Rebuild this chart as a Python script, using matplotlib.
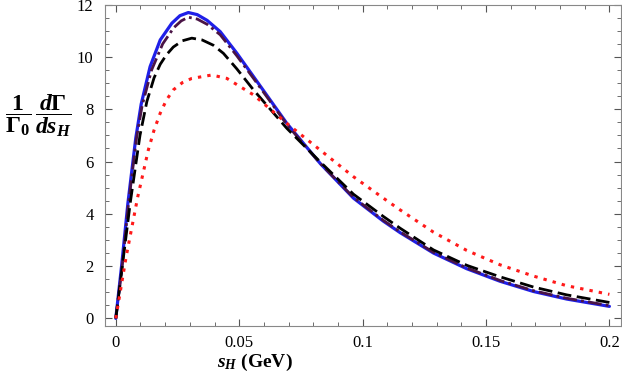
import matplotlib
matplotlib.use("Agg")
import matplotlib.pyplot as plt
from matplotlib.ticker import MultipleLocator

plt.rcParams["font.family"] = "Liberation Serif"
plt.rcParams["mathtext.fontset"] = "custom"
plt.rcParams["mathtext.rm"] = "Liberation Serif:bold"
plt.rcParams["mathtext.it"] = "Liberation Serif:bold:italic"
plt.rcParams["mathtext.bf"] = "Liberation Serif:bold"

# values
blue_x = [0, 0.0024, 0.0049, 0.0081, 0.0103, 0.0139, 0.018, 0.0227, 0.026, 0.0294, 0.033, 0.037,
          0.0423, 0.049, 0.0558, 0.0693, 0.0828, 0.0963, 0.1084, 0.1152, 0.1287, 0.1422, 0.1557,
          0.1692, 0.1827, 0.2]
blue_y = [0, 2.05, 4.4, 6.9, 8.2, 9.63, 10.65, 11.29, 11.58, 11.70, 11.62, 11.40,
          10.97, 10.15, 9.25, 7.46, 5.93, 4.6, 3.72, 3.28, 2.5, 1.9, 1.42,
          1.03, 0.74, 0.46]

purple_x = [0, 0.0026, 0.0051, 0.0084, 0.0107, 0.0145, 0.019, 0.0235, 0.0265, 0.0294, 0.033, 0.037,
            0.0423, 0.049, 0.0558, 0.0693, 0.0828, 0.0963, 0.1084, 0.1152, 0.1287, 0.1422, 0.1557,
            0.1692, 0.1827, 0.2]
purple_y = [0, 2.0, 4.35, 6.9, 8.15, 9.5, 10.5, 11.12, 11.38, 11.52, 11.45, 11.25,
            10.85, 10.05, 9.18, 7.42, 5.93, 4.63, 3.75, 3.31, 2.53, 1.93, 1.45,
            1.06, 0.77, 0.49]

black_x = [0, 0.0031, 0.0059, 0.0098, 0.0126, 0.0155, 0.018, 0.0205, 0.0233, 0.027, 0.0308, 0.035, 0.0395,
           0.0436, 0.049, 0.0558, 0.0693, 0.0828, 0.0963, 0.1084, 0.1152, 0.1287, 0.1422,
           0.1557, 0.1692, 0.1827, 0.2]
black_y = [0, 2.35, 4.45, 7.0, 8.3, 9.2, 9.72, 10.08, 10.38, 10.62, 10.72, 10.65, 10.45,
           10.14, 9.55, 8.74, 7.27, 5.99, 4.75, 3.9, 3.45, 2.62, 2.03,
           1.59, 1.2, 0.9, 0.61]

red_x = [0, 0.0042, 0.0089, 0.0132, 0.0155, 0.018, 0.0205, 0.0233, 0.027, 0.0308, 0.0389, 0.045, 0.0558, 0.0693,
         0.0828, 0.0963, 0.1084, 0.1152, 0.1287, 0.1422, 0.1557, 0.1692, 0.1827, 0.2]
red_y = [0, 2.36, 4.65, 6.45, 7.2, 7.85, 8.35, 8.74, 9.02, 9.18, 9.31, 9.18, 8.55, 7.46,
         6.44, 5.42, 4.6, 4.15, 3.3, 2.6, 2.05, 1.62, 1.25, 0.92]

x_ticks = [0, 0.05, 0.1, 0.15, 0.2]
x_tick_labels = ["0", "0.05", "0.1", "0.15", "0.2"]
y_ticks = [0, 2, 4, 6, 8, 10, 12]

fig = plt.figure(figsize = (6.22, 3.81), dpi = 100)
ax = fig.add_axes([0.1683, 0.1451, 0.8301, 0.8426])

ax.plot(blue_x, blue_y, color = "#1f1fe8", linewidth = 2.3, solid_capstyle = "round", zorder = 3)
ax.plot(purple_x, purple_y, color = "#4a1446", linewidth = 2.0, dashes = (5, 1.5, 1, 1.5), zorder = 4)
ax.plot(black_x, black_y, color = "black", linewidth = 2.0, dashes = (5, 2), zorder = 5)
ax.plot(red_x, red_y, color = "#ff1a1a", linewidth = 2.2, dashes = (1.1, 2.0), zorder = 6)

ax.set_xlim(-0.0045, 0.2047)
ax.set_ylim(-0.28, 12.0)

ax.set_xticks(x_ticks)
ax.set_xticklabels(x_tick_labels)
ax.set_yticks(y_ticks)
ax.xaxis.set_minor_locator(MultipleLocator(0.01))
ax.yaxis.set_minor_locator(MultipleLocator(0.5))
ax.tick_params(which = "both", direction = "in", top = True, right = True, color = "#555555", labelsize = 12)
ax.tick_params(axis = "x", pad = 7)
ax.tick_params(axis = "y", pad = 8)
ax.tick_params(which = "major", length = 5, width = 0.8)
ax.tick_params(which = "minor", length = 3, width = 0.6)
for spine in ax.spines.values():
    spine.set_color("#888888")
    spine.set_linewidth(0.8)

# axis labels
fig.text(255 / 622, 1 - 362 / 381, r"$s_H$ (GeV)", fontsize = 14, fontweight = "bold", ha = "center", va = "center")
fig.text(38 / 622, 1 - 116 / 381, r"$\dfrac{1}{\Gamma_0}\,\dfrac{d\Gamma}{ds_H}$", fontsize = 17, ha = "center", va = "center")

fig.savefig("out.png", dpi = 100)
